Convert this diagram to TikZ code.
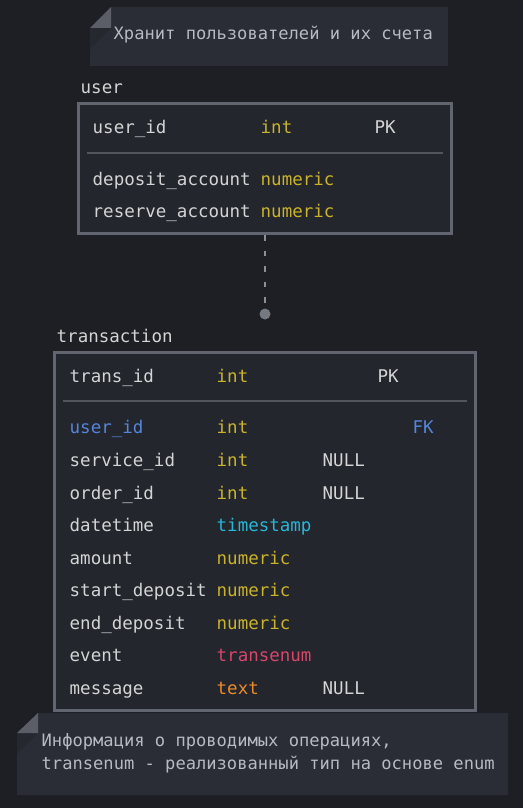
\documentclass[tikz,border=0pt]{standalone}
\usepackage{fontspec}
\setmonofont{DejaVu Sans Mono}
\usetikzlibrary{positioning}

\definecolor{bgcol}{HTML}{1E1F24}
\definecolor{notecol}{HTML}{2A2D36}
\definecolor{foldcol}{HTML}{5B5E67}
\definecolor{shadecol}{HTML}{262830}
\definecolor{tblcol}{HTML}{23262D}
\definecolor{edgecol}{HTML}{61656F}
\definecolor{sepcol}{HTML}{51555E}
\definecolor{txtcol}{HTML}{D4D4D4}
\definecolor{notetxt}{HTML}{B6BAC2}
\definecolor{numcol}{HTML}{C9B22C}
\definecolor{tscol}{HTML}{2AB6D6}
\definecolor{enumcol}{HTML}{D8466A}
\definecolor{textcol}{HTML}{EC8A2C}
\definecolor{fkcol}{HTML}{5585DA}
\definecolor{linkcol}{HTML}{8C8F97}

\newcommand{\tbfont}{\ttfamily\fontsize{17.5}{21}\selectfont}
\newcommand{\ntfont}{\ttfamily\fontsize{17.1}{21}\selectfont}

\begin{document}
\begin{tikzpicture}[
  x=1pt, y=-1pt,
  tbl/.style={draw=edgecol, fill=tblcol, line width=3pt, inner sep=0pt},
  fld/.style={anchor=base west, inner sep=0pt, text=txtcol, font=\tbfont},
  typ/.style={fld, text=numcol},
  title/.style={fld},
  notetext/.style={anchor=base west, inner sep=0pt, text=notetxt, font=\ntfont},
  sep/.style={draw=sepcol, line width=2pt},
  link/.style={draw=linkcol, line width=2pt, dash pattern=on 5.5pt off 10pt},
  dot/.style={circle, fill=linkcol!120, minimum size=11pt, inner sep=0pt}
]
  \fill[bgcol] (0,0) rectangle (523,808);
  \useasboundingbox (0,0) rectangle (523,808);

  % Note on user
  \fill[notecol] (90,28) -- (111,7) -- (448,7) -- (448,66) -- (90,66) -- cycle;
  \fill[shadecol] (90,28) -- (111,28) -- (90,49) -- cycle;
  \fill[foldcol] (90,28) -- (111,7) -- (111,28) -- cycle;
  \node[notetext] (nu) at (113.5,40) {Хранит пользователей и их счета};

  % Table user
  \node[title] (tu) at (80.5,93) {user};
  \node[tbl, minimum width=373pt, minimum height=130pt] (user) at (265,168.5) {};
  \node[fld] (u1) at (92.5,133) {user\_id};
  \node[typ] (u1t) at (260.5,133) {int};
  \node[fld] (u1k) at (374.5,133) {PK};
  \draw[sep] (87,153) -- (443,153);
  \node[fld] (u2) at (92.5,185) {deposit\_account};
  \node[typ] (u2t) at (260.5,185) {numeric};
  \node[fld] (u3) at (92.5,217) {reserve\_account};
  \node[typ] (u3t) at (260.5,217) {numeric};

  % Link user -> transaction
  \node[dot] (lnk) at (265,314) {};
  \draw[link] (user.south) -- (lnk);

  % Table transaction
  \node[title] (tt) at (56.5,342.5) {transaction};
  \node[tbl, minimum width=421pt, minimum height=358pt] (trans) at (265,531.5) {};
  \node[fld] (t1) at (69.5,382) {trans\_id};
  \node[typ] (t1t) at (216.5,382) {int};
  \node[fld] (t1k) at (377.5,382) {PK};
  \draw[sep] (63,401) -- (467,401);
  \node[fld, text=fkcol] (t2) at (69.5,433) {user\_id};
  \node[typ] (t2t) at (216.5,433) {int};
  \node[fld, text=fkcol] (t2k) at (412.5,433) {FK};
  \node[fld] (t3) at (69.5,466) {service\_id};
  \node[typ] (t3t) at (216.5,466) {int};
  \node[fld] (t3n) at (322.5,466) {NULL};
  \node[fld] (t4) at (69.5,499) {order\_id};
  \node[typ] (t4t) at (216.5,499) {int};
  \node[fld] (t4n) at (322.5,499) {NULL};
  \node[fld] (t5) at (69.5,531) {datetime};
  \node[typ, text=tscol] (t5t) at (216.5,531) {timestamp};
  \node[fld] (t6) at (69.5,564) {amount};
  \node[typ] (t6t) at (216.5,564) {numeric};
  \node[fld] (t7) at (69.5,596) {start\_deposit};
  \node[typ] (t7t) at (216.5,596) {numeric};
  \node[fld] (t8) at (69.5,629) {end\_deposit};
  \node[typ] (t8t) at (216.5,629) {numeric};
  \node[fld] (t9) at (69.5,661) {event};
  \node[typ, text=enumcol] (t9t) at (216.5,661) {transenum};
  \node[fld] (t10) at (69.5,694) {message};
  \node[typ, text=textcol] (t10t) at (216.5,694) {text};
  \node[fld] (t10n) at (322.5,694) {NULL};

  % Note on transaction
  \fill[notecol] (17,733) -- (38,713) -- (508,713) -- (508,795) -- (17,795) -- cycle;
  \fill[shadecol] (17,733) -- (38,733) -- (17,754) -- cycle;
  \fill[foldcol] (17,733) -- (38,713) -- (38,733) -- cycle;
  \node[notetext] (nt1) at (41.5,746) {Информация о проводимых операциях,};
  \node[notetext] (nt2) at (41.5,769) {transenum - реализованный тип на основе enum};
\end{tikzpicture}
\end{document}
